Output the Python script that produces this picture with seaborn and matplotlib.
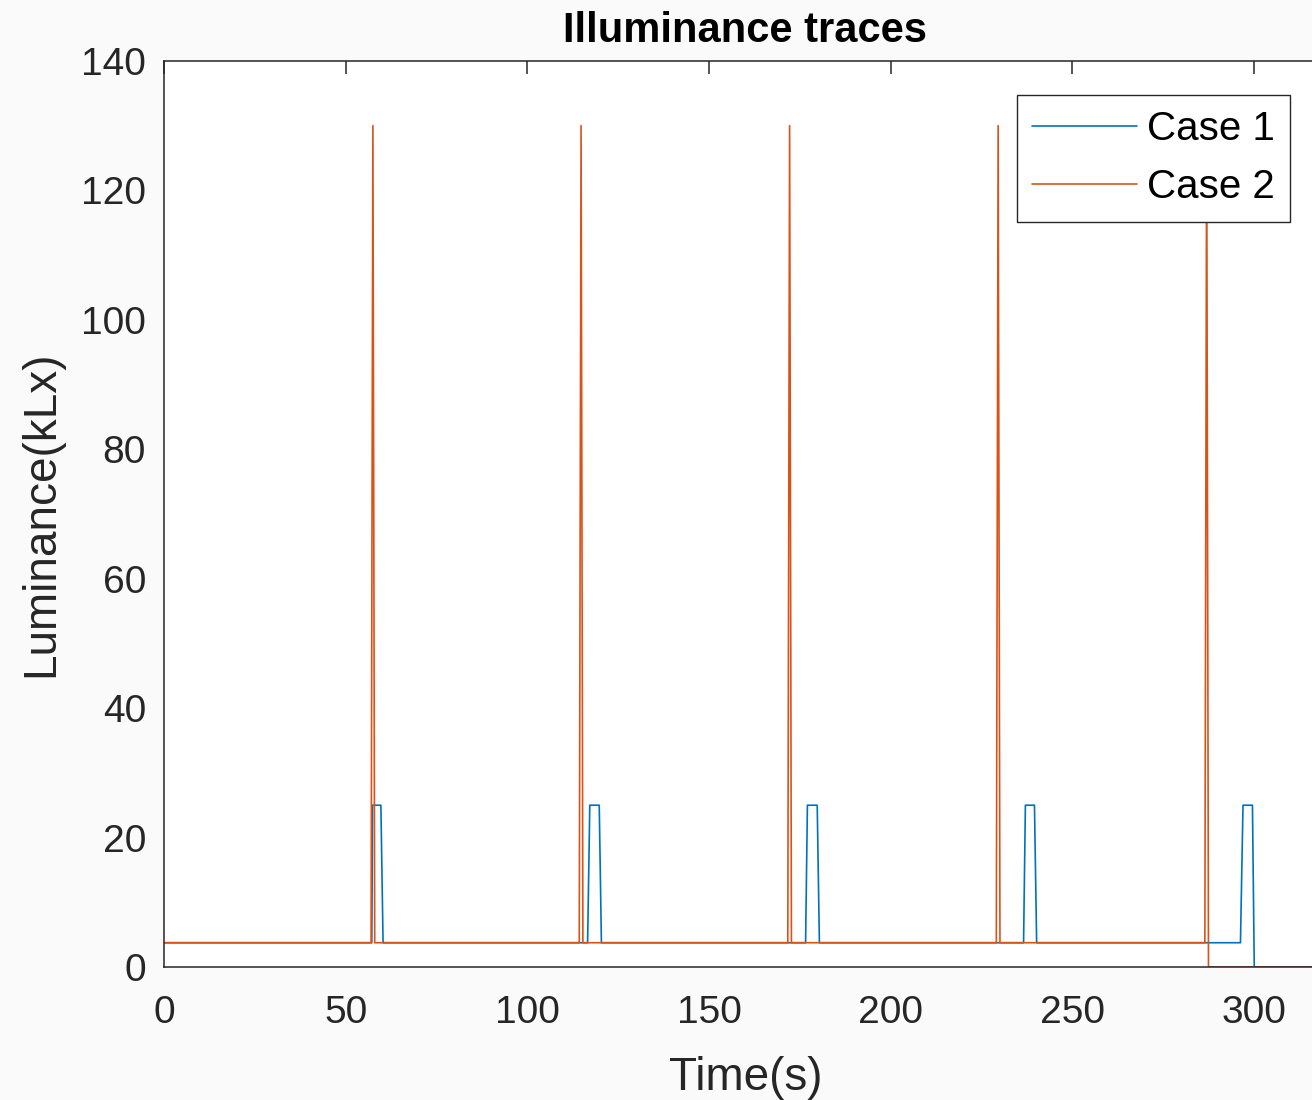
import matplotlib
matplotlib.use("Agg")
import matplotlib.pyplot as plt
import seaborn as sns
import pandas as pd

# ---- data ----
case1_time = [0, 57.2, 57.4, 59.7, 60.3, 116.6, 117.2, 119.8, 120.4,
              176.6, 177.1, 179.8, 180.4, 236.6, 237.1, 239.6, 240.2,
              296.3, 297.0, 299.6, 300.1, 320]
case1_lux = [3.75, 3.75, 25, 25, 3.75, 3.75, 25, 25, 3.75,
             3.75, 25, 25, 3.75, 3.75, 25, 25, 3.75,
             3.75, 25, 25, 0, 0]

case2_time = [0, 57.0, 57.5, 58.0, 114.3, 114.8, 115.3, 171.7, 172.2, 172.7,
              229.1, 229.6, 230.1, 286.5, 287.0, 287.5, 320]
case2_lux = [3.75, 3.75, 130, 3.75, 3.75, 130, 3.75, 3.75, 130, 3.75,
             3.75, 130, 3.75, 3.75, 130, 0, 0]

series_names = ["Case 1", "Case 2"]
colors = ["#0072BD", "#D95319"]
xticks = [0, 50, 100, 150, 200, 250, 300]
yticks = [0, 20, 40, 60, 80, 100, 120, 140]

df = pd.concat([
    pd.DataFrame({"t": case1_time, "lux": case1_lux, "case": series_names[0]}),
    pd.DataFrame({"t": case2_time, "lux": case2_lux, "case": series_names[1]}),
])

sns.set_theme(style="white")
plt.rcParams["font.family"] = ["Liberation Sans", "DejaVu Sans"]

fig = plt.figure(figsize=(13.12, 11.0), dpi=100, facecolor="#fafafa")
left = 164 / 1312
bottom = (1100 - 967) / 1100
width = (320 * 3.633) / 1312
height = (967 - 61) / 1100
ax = fig.add_axes([left, bottom, width, height])
ax.set_facecolor("white")

sns.lineplot(data=df, x="t", y="lux", hue="case", palette=colors,
             estimator=None, sort=False, linewidth=1.2, ax=ax)

ax.set_xlim(0, 320)
ax.set_ylim(0, 140)
ax.set_xticks(xticks)
ax.set_yticks(yticks)
ax.tick_params(axis="both", which="both", direction="in", length=9, width=1.1,
               labelsize=28, colors="#262626", top=True, right=True)
ax.tick_params(axis="y", pad=13)
ax.tick_params(axis="x", pad=20)
for s in ax.spines.values():
    s.set_color("#262626")
    s.set_linewidth(1.1)
    s.set_visible(True)

ax.set_xlabel("Time(s)", fontsize=33, color="#262626", labelpad=18)
ax.set_ylabel("Luminance(kLx)", fontsize=33, color="#262626")
ax.yaxis.set_label_coords((63 - 164) / 1162.6, 0.5)
ax.set_title("Illuminance traces", fontsize=30, fontweight="bold", color="black", pad=14)

leg = ax.legend(loc="upper right", bbox_to_anchor=(1290 / 1312, 1 - 95 / 1100),
                bbox_transform=fig.transFigure, borderaxespad=0, fontsize=29,
                handlelength=2.6, frameon=True, fancybox=False, framealpha=1,
                edgecolor="#262626", borderpad=0.38, labelspacing=0.5,
                handletextpad=0.25)
leg.get_frame().set_linewidth(1.0)
for line in leg.get_lines():
    line.set_linewidth(1.2)
for t in leg.get_texts():
    t.set_color("black")

fig.savefig("out.png", dpi=100, facecolor=fig.get_facecolor())
